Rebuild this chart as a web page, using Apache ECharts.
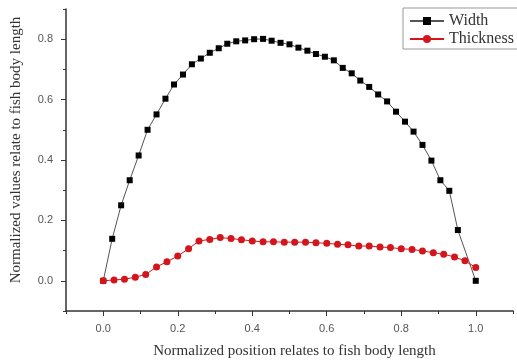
<!DOCTYPE html>
<html>
<head>
<meta charset="utf-8">
<script src="https://cdn.jsdelivr.net/npm/echarts@6/dist/echarts.min.js"></script>
<style>html,body{margin:0;padding:0;background:#fff}#c{width:517px;height:364px}</style>
</head>
<body>
<div id="c"></div>
<script>
// Data
const widthX = [0, 0.024, 0.048, 0.071, 0.095, 0.119, 0.143, 0.167, 0.190, 0.214, 0.238, 0.262, 0.286, 0.310, 0.333, 0.357, 0.381, 0.405, 0.429, 0.452, 0.476, 0.500, 0.524, 0.548, 0.571, 0.595, 0.619, 0.643, 0.667, 0.690, 0.714, 0.738, 0.762, 0.786, 0.810, 0.833, 0.857, 0.881, 0.905, 0.929, 0.952, 1.000];
const widthY = [0, 0.139, 0.250, 0.333, 0.415, 0.500, 0.551, 0.603, 0.650, 0.683, 0.717, 0.736, 0.755, 0.770, 0.785, 0.793, 0.796, 0.800, 0.801, 0.795, 0.788, 0.783, 0.772, 0.762, 0.751, 0.742, 0.730, 0.705, 0.687, 0.663, 0.642, 0.617, 0.594, 0.560, 0.527, 0.494, 0.450, 0.398, 0.333, 0.298, 0.168, 0.0];
const thickX = [0, 0.029, 0.057, 0.086, 0.114, 0.143, 0.171, 0.200, 0.229, 0.257, 0.286, 0.314, 0.343, 0.371, 0.400, 0.429, 0.457, 0.486, 0.514, 0.543, 0.571, 0.600, 0.629, 0.657, 0.686, 0.714, 0.743, 0.771, 0.800, 0.829, 0.857, 0.886, 0.914, 0.943, 0.971, 1.000];
const thickY = [0, 0.003, 0.005, 0.012, 0.021, 0.046, 0.063, 0.082, 0.106, 0.132, 0.137, 0.143, 0.140, 0.136, 0.132, 0.129, 0.129, 0.128, 0.128, 0.128, 0.126, 0.124, 0.121, 0.119, 0.115, 0.115, 0.112, 0.110, 0.106, 0.104, 0.099, 0.093, 0.088, 0.079, 0.066, 0.044];
const xTickLabels = [0, 0.2, 0.4, 0.6, 0.8, 1.0];
const yTickLabels = [0, 0.2, 0.4, 0.6, 0.8];
const seriesNames = ['Width', 'Thickness'];
const xTitle = 'Normalized position relates to fish body length';
const yTitle = 'Normalized values relate to fish body length';

const zip = (xs, ys) => xs.map((x, i) => [x, ys[i]]);
const axisColor = '#333';
const labelStyle = { fontFamily: 'Liberation Sans, Arial, sans-serif', fontSize: 11, color: '#555' };
const serif = 'Liberation Serif, Times New Roman, serif';

const chart = echarts.init(document.getElementById('c'), null, { renderer: 'canvas' });
chart.setOption({
  animation: false,
  backgroundColor: '#fff',
  grid: { left: 66, right: 4, top: 9, bottom: 50, containLabel: false },
  legend: {
    orient: 'vertical',
    left: 403, top: 8,
    padding: [5, 4, 2, 6],
    itemWidth: 34, itemHeight: 10, itemGap: 2,
    borderColor: '#999', borderWidth: 1,
    textStyle: { fontFamily: serif, fontSize: 16, color: '#333' },
    data: seriesNames
  },
  xAxis: [{
    type: 'value', min: -0.1, max: 1.1, interval: 0.1,
    splitLine: { show: false },
    axisLine: { onZero: false, lineStyle: { color: axisColor, width: 1.5 } },
    axisTick: { show: true, length: 3, lineStyle: { color: axisColor } },
    axisLabel: { ...labelStyle, margin: 12, customValues: xTickLabels, formatter: v => v.toFixed(1) },
    name: xTitle, nameLocation: 'middle', nameGap: 33,
    nameTextStyle: { fontFamily: serif, fontSize: 15, color: '#333', padding: [0, 0, 0, 10] }
  }, {
    type: 'value', min: -0.1, max: 1.1, position: 'bottom',
    splitLine: { show: false },
    axisLine: { show: false, onZero: false },
    axisTick: { show: true, length: 5, customValues: xTickLabels, lineStyle: { color: axisColor } },
    axisLabel: { show: false }
  }],
  yAxis: [{
    type: 'value', min: -0.1, max: 0.9, interval: 0.1,
    splitLine: { show: false },
    axisLine: { onZero: false, lineStyle: { color: axisColor, width: 1.5 } },
    axisTick: { show: true, length: 3, lineStyle: { color: axisColor } },
    axisLabel: { ...labelStyle, margin: 13, customValues: yTickLabels, formatter: v => v.toFixed(1) },
    name: yTitle, nameLocation: 'middle', nameGap: 42,
    nameTextStyle: { fontFamily: serif, fontSize: 15, color: '#333', padding: [0, 0, 0, 20] }
  }, {
    type: 'value', min: -0.1, max: 0.9, position: 'left',
    splitLine: { show: false },
    axisLine: { show: false, onZero: false },
    axisTick: { show: true, length: 5, customValues: yTickLabels, lineStyle: { color: axisColor } },
    axisLabel: { show: false }
  }],
  series: [{
    name: seriesNames[0], type: 'line',
    data: zip(widthX, widthY),
    symbol: 'rect', symbolSize: 6,
    itemStyle: { color: '#000' },
    lineStyle: { color: '#555', width: 1 }
  }, {
    name: seriesNames[1], type: 'line',
    data: zip(thickX, thickY),
    symbol: 'circle', symbolSize: 7,
    itemStyle: { color: '#d4161c' },
    lineStyle: { color: '#d4161c', width: 1 }
  }]
});
</script>
</body>
</html>
